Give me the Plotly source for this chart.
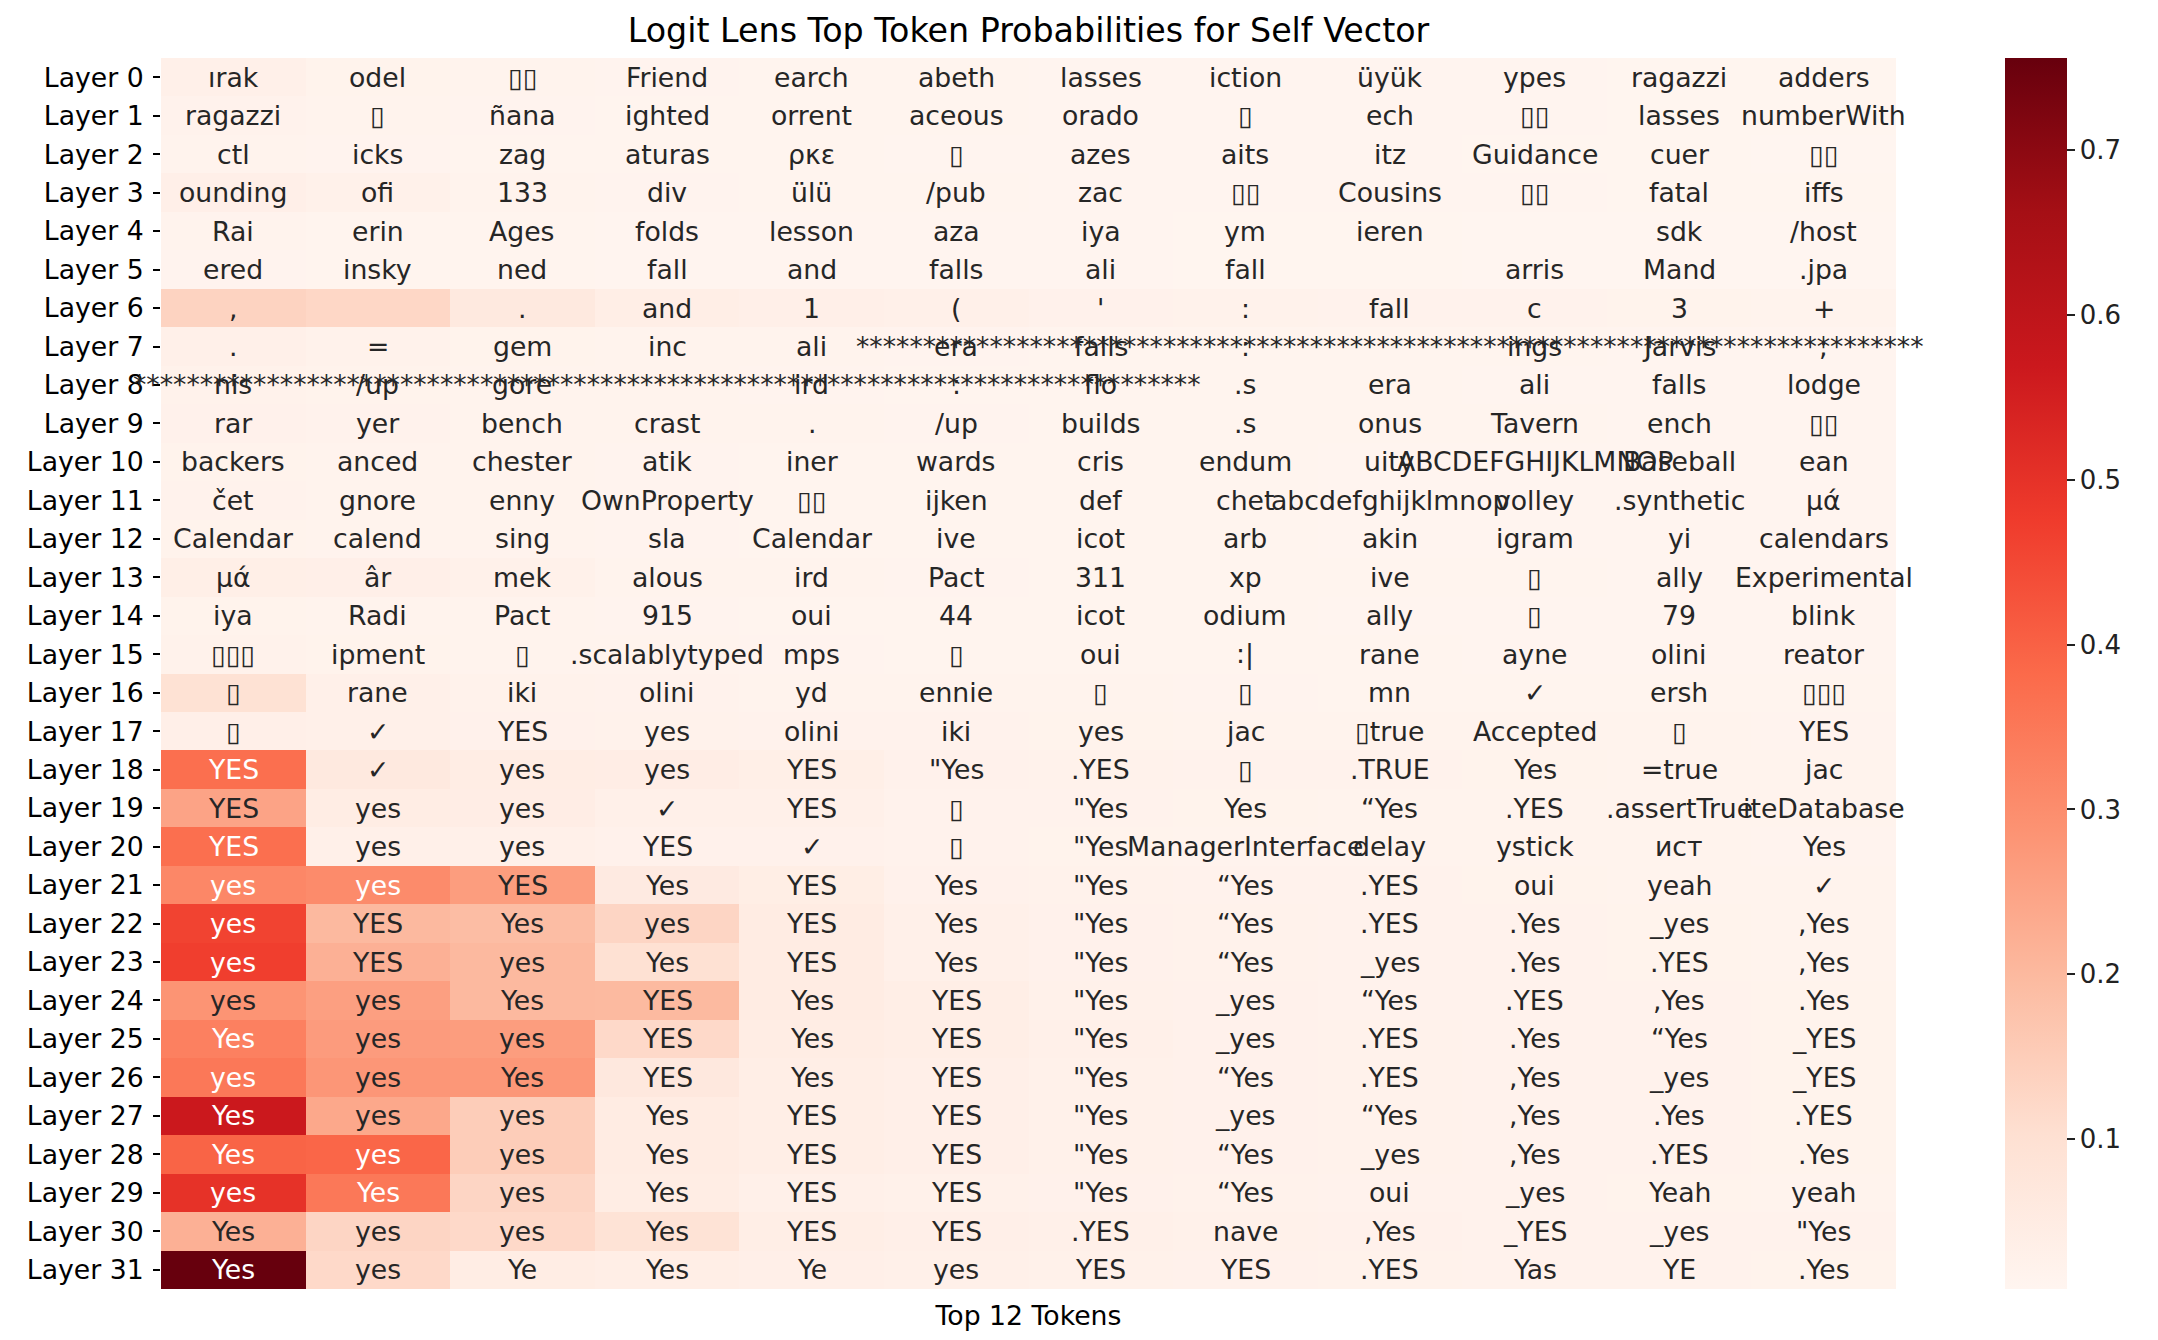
import plotly.graph_objects as go

layers = [f"Layer {i}" for i in range(32)]
ranks = list(range(12))

tokens = [
    ["ırak", "odel", "▯▯", "Friend", "earch", "abeth", "lasses", "iction", "üyük", "ypes", "ragazzi", "adders"],
    ["ragazzi", "▯", "ñana", "ighted", "orrent", "aceous", "orado", "▯", "ech", "▯▯", "lasses", "numberWith"],
    ["ctl", "icks", "zag", "aturas", "ρκε", "▯", "azes", "aits", "itz", "Guidance", "cuer", "▯▯"],
    ["ounding", "ofi", "133", "div", "ülü", "/pub", "zac", "▯▯", "Cousins", "▯▯", "fatal", "iffs"],
    ["Rai", "erin", "Ages", "folds", "lesson", "aza", "iya", "ym", "ieren", " ", "sdk", "/host"],
    ["ered", "insky", "ned", "fall", "and", "falls", "ali", "fall", " ", "arris", "Mand", ".jpa"],
    [",", " ", ".", "and", "1", "(", "'", ":", "fall", "c", "3", "+"],
    [".", "=", "gem", "inc", "ali", "era", "falls", ":", "*" * 80, "ings", "Jarvis", ";"],
    ["nis", "/up", "gore", "*" * 80, "ird", ":", "flo", ".s", "era", "ali", "falls", "lodge"],
    ["rar", "yer", "bench", "crast", ".", "/up", "builds", ".s", "onus", "Tavern", "ench", "▯▯"],
    ["backers", "anced", "chester", "atik", "iner", "wards", "cris", "endum", "uity", "ABCDEFGHIJKLMNOP", "Baseball", "ean"],
    ["čet", "gnore", "enny", "OwnProperty", "▯▯", "ijken", "def", "chet", "abcdefghijklmnop", "volley", ".synthetic", "μά"],
    ["Calendar", "calend", "sing", "sla", "Calendar", "ive", "icot", "arb", "akin", "igram", "yi", "calendars"],
    ["μά", "âr", "mek", "alous", "ird", "Pact", "311", "xp", "ive", "▯", "ally", "Experimental"],
    ["iya", "Radi", "Pact", "915", "oui", "44", "icot", "odium", "ally", "▯", "79", "blink"],
    ["▯▯▯", "ipment", "▯", ".scalablytyped", "mps", "▯", "oui", ":|", "rane", "ayne", "olini", "reator"],
    ["▯", "rane", "iki", "olini", "yd", "ennie", "▯", "▯", "mn", "✓", "ersh", "▯▯▯"],
    ["▯", "✓", "YES", "yes", "olini", "iki", "yes", "jac", "▯true", "Accepted", "▯", "YES"],
    ["YES", "✓", "yes", "yes", "YES", "\"Yes", ".YES", "▯", ".TRUE", "Yes", "=true", "jac"],
    ["YES", "yes", "yes", "✓", "YES", "▯", "\"Yes", "Yes", "“Yes", ".YES", ".assertTrue", "iteDatabase"],
    ["YES", "yes", "yes", "YES", "✓", "▯", "\"Yes", "ManagerInterface", "delay", "ystick", "ист", "Yes"],
    ["yes", "yes", "YES", "Yes", "YES", "Yes", "\"Yes", "“Yes", ".YES", "oui", "yeah", "✓"],
    ["yes", "YES", "Yes", "yes", "YES", "Yes", "\"Yes", "“Yes", ".YES", ".Yes", "_yes", ",Yes"],
    ["yes", "YES", "yes", "Yes", "YES", "Yes", "\"Yes", "“Yes", "_yes", ".Yes", ".YES", ",Yes"],
    ["yes", "yes", "Yes", "YES", "Yes", "YES", "\"Yes", "_yes", "“Yes", ".YES", ",Yes", ".Yes"],
    ["Yes", "yes", "yes", "YES", "Yes", "YES", "\"Yes", "_yes", ".YES", ".Yes", "“Yes", "_YES"],
    ["yes", "yes", "Yes", "YES", "Yes", "YES", "\"Yes", "“Yes", ".YES", ",Yes", "_yes", "_YES"],
    ["Yes", "yes", "yes", "Yes", "YES", "YES", "\"Yes", "_yes", "“Yes", ",Yes", ".Yes", ".YES"],
    ["Yes", "yes", "yes", "Yes", "YES", "YES", "\"Yes", "“Yes", "_yes", ",Yes", ".YES", ".Yes"],
    ["yes", "Yes", "yes", "Yes", "YES", "YES", "\"Yes", "“Yes", "oui", "_yes", "Yeah", "yeah"],
    ["Yes", "yes", "yes", "Yes", "YES", "YES", ".YES", "nave", ",Yes", "_YES", "_yes", "\"Yes"],
    ["Yes", "yes", "Ye", "Yes", "Ye", "yes", "YES", "YES", ".YES", "Yas", "YE", ".Yes"],
]

probs = [
    [0.032, 0.020, 0.017, 0.016, 0.015, 0.014, 0.013, 0.013, 0.012, 0.012, 0.011, 0.011],
    [0.022, 0.018, 0.016, 0.015, 0.015, 0.014, 0.013, 0.013, 0.012, 0.012, 0.011, 0.011],
    [0.018, 0.016, 0.015, 0.014, 0.014, 0.013, 0.013, 0.012, 0.012, 0.011, 0.011, 0.010],
    [0.034, 0.028, 0.018, 0.016, 0.015, 0.014, 0.013, 0.013, 0.012, 0.012, 0.011, 0.011],
    [0.017, 0.015, 0.014, 0.013, 0.013, 0.012, 0.012, 0.011, 0.011, 0.010, 0.010, 0.010],
    [0.016, 0.015, 0.014, 0.013, 0.013, 0.012, 0.012, 0.011, 0.011, 0.010, 0.010, 0.009],
    [0.135, 0.125, 0.062, 0.040, 0.034, 0.030, 0.026, 0.024, 0.022, 0.021, 0.020, 0.019],
    [0.030, 0.024, 0.020, 0.018, 0.017, 0.016, 0.015, 0.015, 0.014, 0.014, 0.013, 0.013],
    [0.024, 0.020, 0.018, 0.017, 0.016, 0.015, 0.015, 0.014, 0.014, 0.013, 0.013, 0.012],
    [0.026, 0.021, 0.019, 0.018, 0.017, 0.016, 0.015, 0.015, 0.014, 0.014, 0.013, 0.013],
    [0.020, 0.018, 0.017, 0.016, 0.015, 0.015, 0.014, 0.014, 0.013, 0.013, 0.012, 0.012],
    [0.022, 0.019, 0.017, 0.016, 0.015, 0.015, 0.014, 0.014, 0.013, 0.013, 0.012, 0.012],
    [0.020, 0.018, 0.017, 0.016, 0.015, 0.015, 0.014, 0.014, 0.013, 0.013, 0.012, 0.012],
    [0.036, 0.034, 0.028, 0.018, 0.017, 0.016, 0.015, 0.015, 0.014, 0.014, 0.013, 0.013],
    [0.020, 0.018, 0.017, 0.016, 0.015, 0.015, 0.014, 0.014, 0.013, 0.013, 0.012, 0.012],
    [0.024, 0.020, 0.018, 0.017, 0.016, 0.015, 0.015, 0.014, 0.014, 0.013, 0.013, 0.012],
    [0.095, 0.030, 0.024, 0.021, 0.019, 0.018, 0.017, 0.016, 0.015, 0.015, 0.014, 0.014],
    [0.034, 0.030, 0.026, 0.024, 0.022, 0.021, 0.020, 0.019, 0.018, 0.017, 0.017, 0.016],
    [0.370, 0.062, 0.046, 0.044, 0.036, 0.026, 0.024, 0.022, 0.021, 0.020, 0.019, 0.018],
    [0.250, 0.046, 0.044, 0.032, 0.030, 0.022, 0.021, 0.020, 0.019, 0.018, 0.018, 0.017],
    [0.370, 0.032, 0.030, 0.026, 0.025, 0.021, 0.020, 0.019, 0.018, 0.018, 0.017, 0.016],
    [0.315, 0.305, 0.265, 0.056, 0.042, 0.026, 0.024, 0.022, 0.021, 0.020, 0.019, 0.018],
    [0.460, 0.200, 0.190, 0.130, 0.050, 0.030, 0.026, 0.024, 0.022, 0.021, 0.020, 0.019],
    [0.470, 0.220, 0.200, 0.100, 0.050, 0.030, 0.026, 0.024, 0.022, 0.021, 0.020, 0.019],
    [0.285, 0.260, 0.200, 0.198, 0.050, 0.040, 0.028, 0.025, 0.023, 0.022, 0.021, 0.020],
    [0.330, 0.268, 0.265, 0.120, 0.046, 0.040, 0.030, 0.026, 0.024, 0.022, 0.021, 0.020],
    [0.350, 0.280, 0.278, 0.065, 0.040, 0.035, 0.028, 0.026, 0.024, 0.022, 0.021, 0.020],
    [0.570, 0.240, 0.150, 0.050, 0.040, 0.035, 0.028, 0.026, 0.024, 0.022, 0.021, 0.020],
    [0.395, 0.390, 0.150, 0.050, 0.040, 0.035, 0.028, 0.026, 0.024, 0.022, 0.021, 0.020],
    [0.500, 0.350, 0.130, 0.046, 0.030, 0.028, 0.026, 0.024, 0.022, 0.021, 0.020, 0.019],
    [0.220, 0.130, 0.120, 0.090, 0.040, 0.035, 0.032, 0.028, 0.025, 0.023, 0.022, 0.021],
    [0.756, 0.120, 0.046, 0.040, 0.035, 0.030, 0.028, 0.026, 0.024, 0.022, 0.021, 0.020],
]

colorbar_ticks = [0.1, 0.2, 0.3, 0.4, 0.5, 0.6, 0.7]

reds = [
    (0.0, (255, 245, 240)), (0.125, (254, 224, 210)), (0.25, (252, 187, 161)),
    (0.375, (252, 146, 114)), (0.5, (251, 106, 74)), (0.625, (239, 59, 44)),
    (0.75, (203, 24, 29)), (0.875, (165, 15, 21)), (1.0, (103, 0, 13)),
]
colorscale = [[p, "rgb(%d,%d,%d)" % c] for p, c in reds]

flat = [v for row in probs for v in row]
zmin, zmax = min(flat), max(flat)


def color_at(t):
    t = max(0.0, min(1.0, t))
    for (p0, c0), (p1, c1) in zip(reds[:-1], reds[1:]):
        if t <= p1:
            f = (t - p0) / (p1 - p0)
            return [c0[k] + f * (c1[k] - c0[k]) for k in range(3)]
    return list(reds[-1][1])


def luminance(rgb):
    out = []
    for c in rgb:
        c = c / 255.0
        out.append(c / 12.92 if c <= 0.03928 else ((c + 0.055) / 1.055) ** 2.4)
    return 0.2126 * out[0] + 0.7152 * out[1] + 0.0722 * out[2]


FONT = "DejaVu Sans"
FS = 26.7
fig = go.Figure(
    go.Heatmap(
        z=probs, x=ranks, y=layers,
        colorscale=colorscale, zmin=zmin, zmax=zmax,
        colorbar=dict(
            thickness=62, len=1.0, lenmode="fraction", y=0.5, yanchor="middle",
            x=(2005 - 161) / (1896 - 161), xanchor="left", xpad=0, ypad=0,
            outlinewidth=0, tickvals=colorbar_ticks,
            ticktext=[f"{v:.1f}" for v in colorbar_ticks],
            ticks="outside", ticklen=8, tickwidth=1.5, tickcolor="#222",
            tickfont=dict(family=FONT, size=26, color="#222"),
        ),
        hoverinfo="skip",
    )
)

annotations = []
for i, layer in enumerate(layers):
    for j in ranks:
        v = probs[i][j]
        lum = luminance(color_at((v - zmin) / (zmax - zmin)))
        col = "white" if lum < 0.408 else "#262626"
        annotations.append(dict(
            x=j, y=layer, xref="x", yref="y", text=tokens[i][j], showarrow=False,
            font=dict(family=FONT, size=FS, color=col),
        ))

fig.update_layout(
    width=2158, height=1340,
    margin=dict(l=161, r=2158 - 1896, t=58, b=1340 - 1289),
    paper_bgcolor="white", plot_bgcolor="white",
    title=dict(
        text="Logit Lens Top Token Probabilities for Self Vector",
        x=0.5, xref="paper", xanchor="center",
        y=1 - 30 / 1340, yref="container", yanchor="middle",
        font=dict(family=FONT, size=33.3, color="black"),
    ),
    annotations=annotations,
    xaxis=dict(
        showticklabels=False, ticks="", showgrid=False, zeroline=False,
        showline=False, range=[-0.5, 11.5],
        title=dict(text="Top 12 Tokens", standoff=17,
                   font=dict(family=FONT, size=FS, color="black")),
    ),
    yaxis=dict(
        autorange="reversed", type="category", showgrid=False, zeroline=False,
        showline=False, ticks="outside", ticklen=7, tickwidth=1.5, tickcolor="black",
        tickfont=dict(family=FONT, size=FS, color="black"), ticklabelstandoff=4,
    ),
)

fig.write_html("out.html")
